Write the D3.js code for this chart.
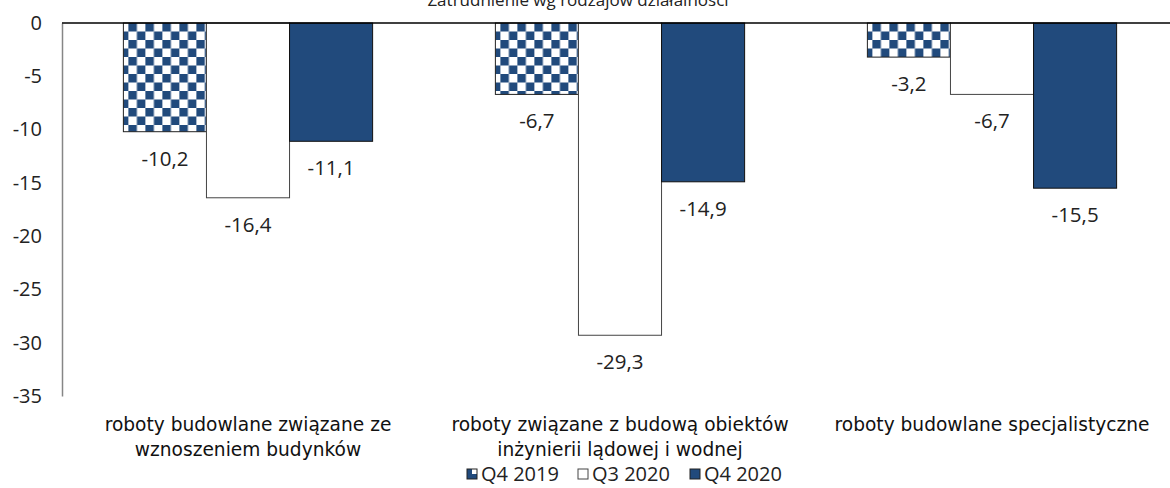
<!DOCTYPE html>
<html>
<head>
<meta charset="utf-8">
<script src="https://cdn.jsdelivr.net/npm/d3@7"></script>
<style>
  body { margin: 0; background: #fff; }
  svg { display: block; }
</style>
</head>
<body>
<div id="chart"></div>
<script>
// chart data
const categories = [
  ["roboty budowlane związane ze", "wznoszeniem budynków"],
  ["roboty związane z budową obiektów", "inżynierii lądowej i wodnej"],
  ["roboty budowlane specjalistyczne"]
];
const seriesNames = ["Q4 2019", "Q3 2020", "Q4 2020"];
const q4_2019 = [-10.2, -6.7, -3.2];
const q3_2020 = [-16.4, -29.3, -6.7];
const q4_2020 = [-11.1, -14.9, -15.5];
const yTicks = [0, -5, -10, -15, -20, -25, -30, -35];
const title = "Zatrudnienie wg rodzajów działalności";

const width = 1170, height = 488;
const navy = "#214a7c";
const valueFont = "'Open Sans', sans-serif";
const catFont = "'DejaVu Sans', sans-serif";

const svg = d3.select("#chart").append("svg")
  .attr("width", width).attr("height", height);

const defs = svg.append("defs");
const pat = defs.append("pattern").attr("id", "checker")
  .attr("patternUnits", "userSpaceOnUse").attr("width", 17).attr("height", 17)
  .attr("x", 124).attr("y", 23);
pat.append("rect").attr("width", 17).attr("height", 17).attr("fill", "#fff");
pat.append("rect").attr("width", 8.5).attr("height", 8.5).attr("fill", navy);
pat.append("rect").attr("x", 8.5).attr("y", 8.5).attr("width", 8.5).attr("height", 8.5).attr("fill", navy);

const pat2 = defs.append("pattern").attr("id", "checkerSmall")
  .attr("patternUnits", "userSpaceOnUse").attr("width", 10).attr("height", 10);
pat2.append("rect").attr("width", 10).attr("height", 10).attr("fill", "#fff");
pat2.append("rect").attr("width", 5).attr("height", 10).attr("fill", navy);
pat2.append("rect").attr("x", 5).attr("y", 5).attr("width", 5).attr("height", 5).attr("fill", navy);

const fills = ["url(#checker)", "#ffffff", navy];
const strokes = ["#222", "#444", "#111"];

const data = categories.map((c, i) => ({
  i, values: [q4_2019[i], q3_2020[i], q4_2020[i]]
}));

const x0 = d3.scaleBand().domain(d3.range(categories.length))
  .range([62, 1178]).paddingInner(0.33).paddingOuter(0.165);
const x1 = d3.scaleBand().domain(d3.range(seriesNames.length))
  .range([0, x0.bandwidth()]);
const y = d3.scaleLinear().domain([-35, 0]).range([396, 23]);

// title (partly cut at top, like in the source)
svg.append("text").attr("x", 578).attr("y", 6)
  .attr("text-anchor", "middle").attr("font-family", valueFont)
  .attr("font-size", 17).attr("fill", "#222").text(title);

// y axis
const yAxis = svg.append("g").attr("transform", "translate(62,0)")
  .call(d3.axisLeft(y).tickValues(yTicks).tickSize(0).tickPadding(20)
    .tickFormat(d => d3.format("d")(d).replace("−", "-")));
yAxis.select(".domain").attr("stroke", "#868686").attr("stroke-width", 1.5);
yAxis.selectAll("text").attr("font-family", valueFont).attr("font-size", 20)
  .attr("fill", "#222");

// bars
const groups = svg.append("g").selectAll("g").data(data).join("g")
  .attr("transform", d => `translate(${x0(d.i)},0)`);

groups.selectAll("rect").data(d => d.values.map((v, s) => ({ v, s })))
  .join("rect")
  .attr("x", d => x1(d.s))
  .attr("y", y(0))
  .attr("width", x1.bandwidth())
  .attr("height", d => y(d.v) - y(0))
  .attr("fill", d => fills[d.s])
  .attr("stroke", d => strokes[d.s])
  .attr("stroke-width", 1);

groups.selectAll("text.val").data(d => d.values.map((v, s) => ({ v, s })))
  .join("text").attr("class", "val")
  .attr("x", d => x1(d.s) + x1.bandwidth() / 2)
  .attr("y", d => y(d.v) + 34)
  .attr("text-anchor", "middle")
  .attr("font-family", valueFont).attr("font-size", 20.5).attr("fill", "#222")
  .text(d => d3.format(".1f")(d.v).replace("−", "-").replace(".", ","));

// zero line
svg.append("line").attr("x1", 62).attr("x2", width)
  .attr("y1", y(0)).attr("y2", y(0))
  .attr("stroke", "#000").attr("stroke-width", 1.5);

// category labels
svg.append("g").selectAll("text").data(categories).join("text")
  .attr("x", (d, i) => x0(i) + x0.bandwidth() / 2)
  .attr("y", 431)
  .attr("text-anchor", "middle")
  .attr("font-family", catFont).attr("font-size", 18.6).attr("fill", "#111")
  .each(function (d) {
    d3.select(this).selectAll("tspan").data(d).join("tspan")
      .attr("x", d3.select(this).attr("x"))
      .attr("dy", (t, k) => k === 0 ? 0 : 25)
      .text(t => t);
  });

// legend
const legendX = [467, 578, 690];
const legend = svg.append("g").selectAll("g").data(seriesNames).join("g")
  .attr("transform", (d, i) => `translate(${legendX[i]},469)`);
legend.append("rect").attr("width", 10).attr("height", 10)
  .attr("fill", (d, i) => i === 0 ? "url(#checkerSmall)" : fills[i])
  .attr("stroke", (d, i) => i === 1 ? "#444" : "#222").attr("stroke-width", 1);
legend.append("text").attr("x", 14).attr("y", 12)
  .attr("font-family", valueFont).attr("font-size", 20).attr("fill", "#222")
  .text(d => d);
</script>
</body>
</html>
